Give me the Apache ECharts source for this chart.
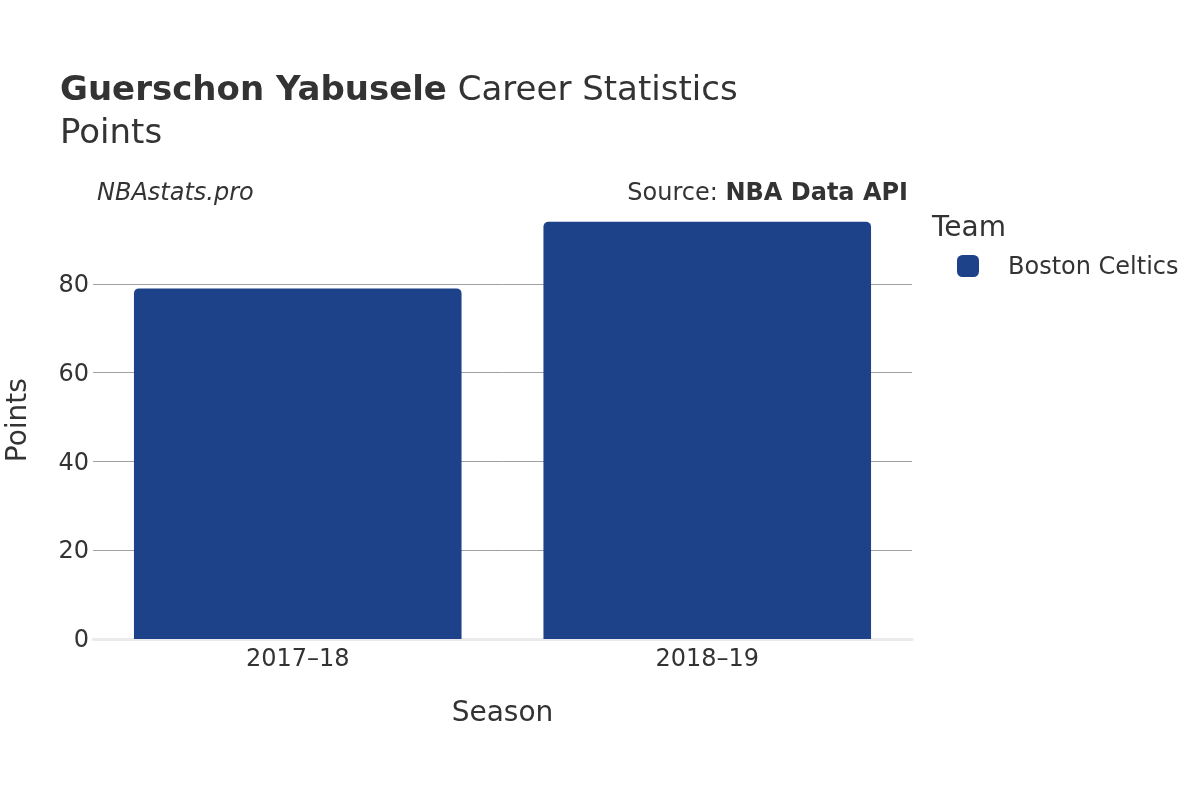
<!DOCTYPE html>
<html>
<head>
<meta charset="utf-8">
<script src="https://cdn.jsdelivr.net/npm/echarts@6/dist/echarts.min.js"></script>
<style>html,body{margin:0;padding:0;background:#fff;}#c{width:1200px;height:800px;}</style>
</head>
<body>
<div id="c"></div>
<script>
const seasons = ['2017–18', '2018–19'];
const points = [79, 94];
const teamName = 'Boston Celtics';
const teamColor = '#1d428a';
const yTicks = [0, 20, 40, 60, 80];

const FONT = 'DejaVu Sans';
const chart = echarts.init(document.getElementById('c'), null, {renderer: 'canvas'});
chart.setOption({
  backgroundColor: '#fff',
  textStyle: {fontFamily: FONT, color: '#333'},
  title: [
    {
      left: 60, top: 74, padding: 0,
      text: '{b|Guerschon Yabusele}{n| Career Statistics}',
      textStyle: {
        rich: {
          b: {fontFamily: FONT, fontWeight: 'bold', fontSize: 34, color: '#333'},
          n: {fontFamily: FONT, fontWeight: 'normal', fontSize: 34, color: '#333'}
        }
      }
    },
    {
      left: 60, top: 117, padding: 0,
      text: 'Points',
      textStyle: {fontFamily: FONT, fontWeight: 'normal', fontSize: 34, color: '#333'}
    },
    {
      left: 97, top: 182, padding: 0,
      text: 'NBAstats.pro',
      textStyle: {fontFamily: FONT, fontStyle: 'italic', fontWeight: 'normal', fontSize: 24, color: '#333'}
    },
    {
      right: 292, top: 182, padding: 0,
      text: '{n|Source: }{b|NBA Data API}',
      textStyle: {
        rich: {
          n: {fontFamily: FONT, fontWeight: 'normal', fontSize: 24, color: '#333'},
          b: {fontFamily: FONT, fontWeight: 'bold', fontSize: 24, color: '#333'}
        }
      }
    },
    {
      left: 932, top: 215, padding: 0,
      text: 'Team',
      textStyle: {fontFamily: FONT, fontWeight: 'normal', fontSize: 28, color: '#333'}
    }
  ],
  legend: {
    left: 957, top: 255, padding: 0,
    orient: 'vertical',
    icon: 'roundRect',
    itemWidth: 22, itemHeight: 22,
    data: [teamName],
    formatter: name => '{t|' + name + '}',
    textStyle: {fontFamily: FONT, fontSize: 24, color: '#333',
      rich: {t: {fontFamily: FONT, fontSize: 24, color: '#333', padding: [4, 0, 0, 24]}}}
  },
  grid: {left: 93, right: 288, top: 217.4, bottom: 161, containLabel: false, outerBoundsMode: 'none'},
  xAxis: {
    type: 'category',
    data: seasons,
    name: 'Season',
    nameLocation: 'middle',
    nameGap: 61,
    nameTextStyle: {fontFamily: FONT, fontSize: 28, color: '#333'},
    axisLine: {show: true, lineStyle: {color: '#ebebeb', width: 3}},
    axisTick: {show: false},
    axisLabel: {fontFamily: FONT, fontSize: 24, color: '#333', margin: 9}
  },
  yAxis: {
    type: 'value',
    min: 0, max: 95, interval: 20,
    name: '{t|Points}',
    nameLocation: 'middle',
    nameGap: 60,
    nameTextStyle: {fontFamily: FONT, fontSize: 28, color: '#333',
      rich: {t: {fontFamily: FONT, fontSize: 28, color: '#333', padding: [0, 0, 0, 16]}}},
    axisLine: {show: false},
    axisTick: {show: false},
    axisLabel: {fontFamily: FONT, fontSize: 24, color: '#333', margin: 4, showMaxLabel: false,
      formatter: v => yTicks.indexOf(v) >= 0 ? '{t|' + v + '}' : '',
      rich: {t: {fontFamily: FONT, fontSize: 24, color: '#333', padding: [4, 0, 0, 0]}}},
    splitLine: {show: true, showMaxLine: false, showMinLine: false, lineStyle: {color: '#a0a0a0', width: 1}}
  },
  series: [{
    name: teamName,
    type: 'bar',
    data: points,
    barCategoryGap: '20%',
    itemStyle: {color: teamColor, borderRadius: [5, 5, 0, 0]}
  }]
});
</script>
</body>
</html>
